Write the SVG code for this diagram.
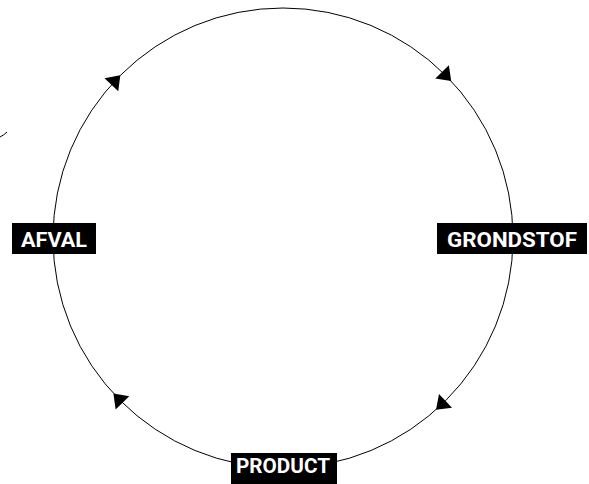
<svg xmlns="http://www.w3.org/2000/svg" width="589" height="484" viewBox="0 0 589 484">
<style>
.ring{fill:none;stroke:#000;stroke-width:1}
.box{fill:#000}
.lbl{fill:#fff;font-family:Roboto,"Liberation Sans",sans-serif;font-weight:bold;font-size:21px}
.head{fill:#000}
</style>
<defs>
<path id="tri" d="M6,0 L-7,-9.5 L-7,9.5 Z"/>
</defs>
<rect width="589" height="484" fill="#fff"/>
<g id="connectors">
<circle class="ring" cx="283" cy="238" r="230"/>
<use href="#tri" class="head" transform="translate(116.2,79.7) rotate(-46.5)"/>
<use href="#tri" class="head" transform="translate(447,76.8) rotate(45.5)"/>
<use href="#tri" class="head" transform="translate(440.4,405.7) rotate(136.8)"/>
<use href="#tri" class="head" transform="translate(117.6,397.8) rotate(226)"/>
<path class="ring" d="M0,137 Q4,135 7,132"/>
</g>
<g id="afval">
<rect class="box" x="12" y="223" width="84" height="31"/>
<text class="lbl" x="21" y="246.5" textLength="66" lengthAdjust="spacingAndGlyphs">AFVAL</text>
</g>
<g id="grondstof">
<rect class="box" x="437" y="223" width="150" height="31"/>
<text class="lbl" x="447" y="246.5" textLength="130" lengthAdjust="spacingAndGlyphs">GRONDSTOF</text>
</g>
<g id="product">
<rect class="box" x="231" y="453" width="106" height="31"/>
<text class="lbl" x="236" y="472.5" textLength="94" lengthAdjust="spacingAndGlyphs">PRODUCT</text>
</g>
</svg>
